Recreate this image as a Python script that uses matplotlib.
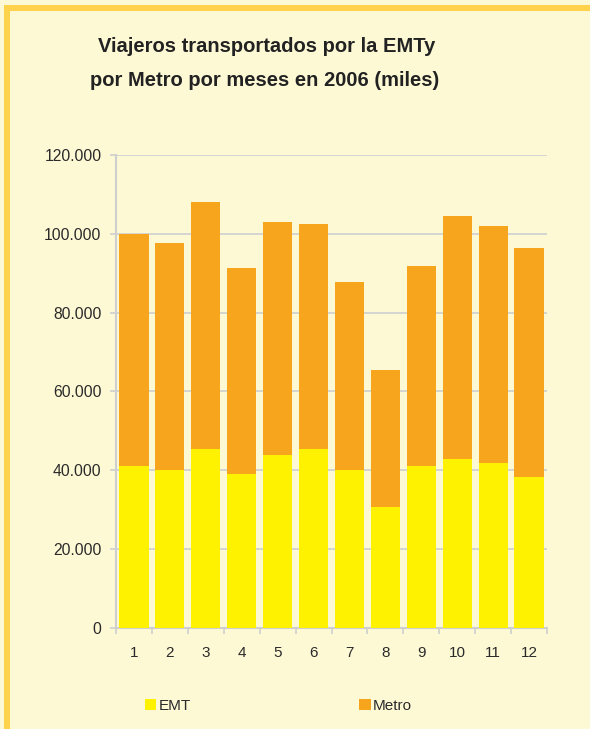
import matplotlib
matplotlib.use('Agg')
import matplotlib.pyplot as plt
from matplotlib.patches import Rectangle, Patch
import numpy as np

# data (miles de viajeros)
meses = [1, 2, 3, 4, 5, 6, 7, 8, 9, 10, 11, 12]
emt = [41000, 40000, 45500, 39000, 44000, 45500, 40000, 30800, 41000, 43000, 42000, 38400]
metro = [59000, 57500, 62500, 52300, 59000, 57000, 47800, 34700, 50800, 61500, 60000, 58000]
yticks = [0, 20000, 40000, 60000, 80000, 100000, 120000]
ylabels = ['0', '20.000', '40.000', '60.000', '80.000', '100.000', '120.000']

bg = '#FEF9D5'
c_emt = '#FFF200'
c_metro = '#F7A51C'
c_border = '#FFD24C'
c_grid = '#CFCFCF'

plt.rcParams['font.family'] = ['Liberation Sans', 'DejaVu Sans']

fig = plt.figure(figsize=(5.9, 7.29), dpi=100, facecolor=bg)
W, H = 590, 729

# frame: top and left bars
fig.patches.append(Rectangle((4 / W, 0), 6 / W, 1 - 5 / H, transform=fig.transFigure,
                             facecolor=c_border, edgecolor='none'))
fig.patches.append(Rectangle((4 / W, 1 - 11 / H), 1 - 4 / W, 6 / H, transform=fig.transFigure,
                             facecolor=c_border, edgecolor='none'))

ax = fig.add_axes([116 / W, 1 - 628.3 / H, 431 / W, 473.6 / H])
ax.set_facecolor(bg)

x = np.array(meses)
ax.bar(x, emt, width=0.81, color=c_emt, zorder=3)
ax.bar(x, metro, width=0.81, bottom=emt, color=c_metro, zorder=3)

ax.set_xlim(0.5, 12.5)
ax.set_ylim(0, 120000)
ax.set_yticks(yticks)
ax.set_yticklabels(ylabels)
ax.set_xticks(x)
ax.set_xticklabels([str(m) for m in meses])
ax.set_xticks(np.arange(0.5, 13, 1), minor=True)

ax.grid(axis='y', color=c_grid, linewidth=1.2, zorder=0)
for s in ['top', 'right']:
    ax.spines[s].set_visible(False)
ax.spines['left'].set_color(c_grid)
ax.spines['left'].set_linewidth(1.5)
ax.spines['bottom'].set_color(c_grid)
ax.spines['bottom'].set_linewidth(1.5)

ax.tick_params(axis='y', length=4, width=1.2, color=c_grid, labelsize=11.3,
               labelcolor='#2a2a2a', pad=6.5)
ax.tick_params(axis='x', which='major', length=0, labelsize=11, labelcolor='#2a2a2a', pad=13)
ax.tick_params(axis='x', which='minor', length=4, width=1.2, color=c_grid)

fig.text(267 / W, 1 - 47 / H, 'Viajeros transportados por la EMTy', ha='center', va='center',
         fontsize=14.5, fontweight='bold', color='#222222')
fig.text(265 / W, 1 - 80 / H, 'por Metro por meses en 2006 (miles)', ha='center', va='center',
         fontsize=14.5, fontweight='bold', color='#222222')

handles = [Patch(facecolor=c_emt, label='EMT'), Patch(facecolor=c_metro, label='Metro')]
fig.legend(handles=handles, loc='center left', bbox_to_anchor=(145 / W, 1 - 706 / H),
           ncol=2, frameon=False, fontsize=11, handlelength=0.75, handleheight=0.75,
           handletextpad=0.15, columnspacing=11.0, borderpad=0, borderaxespad=0,
           labelcolor='#2a2a2a')

fig.savefig('out.png', dpi=100, facecolor=bg)
